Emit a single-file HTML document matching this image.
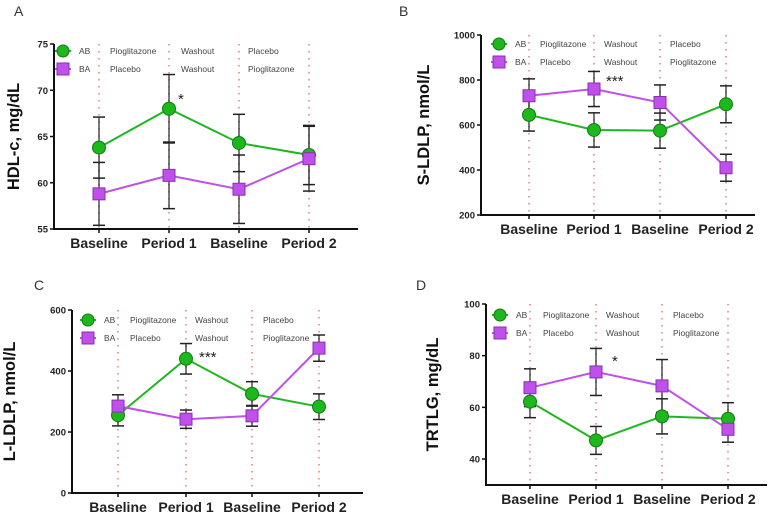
<!DOCTYPE html>
<html><head><meta charset="utf-8"><style>
body{margin:0;background:#fff;}
svg{display:block;font-family:"Liberation Sans",Arial,sans-serif;}
</style></head><body>
<svg id="fig" width="774" height="514" viewBox="0 0 774 514"></svg>
<script>
const categories = ["Baseline","Period 1","Baseline","Period 2"];
// Panel A HDL-c
const aAB = [63.8, 68.0, 64.3, 63.0];
const aABerr = [3.3, 3.7, 3.1, 3.2];
const aBA = [58.8, 60.8, 59.3, 62.6];
const aBAerr = [3.4, 3.6, 3.7, 3.5];
const aTicks = [55, 60, 65, 70, 75];
// Panel B S-LDLP
const bAB = [645, 578, 575, 692];
const bABerr = [72, 76, 78, 82];
const bBA = [730, 760, 700, 410];
const bBAerr = [75, 78, 78, 60];
const bTicks = [200, 400, 600, 800, 1000];
// Panel C L-LDLP
const cAB = [255, 440, 325, 283];
const cABerr = [35, 50, 40, 42];
const cBA = [285, 242, 253, 475];
const cBAerr = [37, 30, 34, 43];
const cTicks = [0, 200, 400, 600];
// Panel D TRTLG
const dAB = [62.2, 47.2, 56.5, 55.6];
const dABerr = [6.2, 5.4, 6.8, 6.2];
const dBA = [67.6, 73.7, 68.3, 51.5];
const dBAerr = [7.3, 9.1, 10.2, 5.0];
const dTicks = [40, 60, 80, 100];

const panels = [
 {id:"a", letter:"A", lx:14, ly:16, ax:54, top:44, bot:229, right:358, ymin:55, ymax:75, xs:[99,169,239,309], ticks:aTicks, ab:aAB, abe:aABerr, ba:aBA, bae:aBAerr, label:"HDL-c, mg/dL", tx:13, star:"*", starX:178, starY:104, legX:63, legY:51, cols:[110,181,248]},
 {id:"b", letter:"B", lx:399, ly:16, ax:481, top:35, bot:215, right:755, ymin:200, ymax:1000, xs:[529,594,660,726], ticks:bTicks, ab:bAB, abe:bABerr, ba:bBA, bae:bBAerr, label:"S-LDLP, nmol/L", tx:423, star:"***", starX:606, starY:86, legX:499, legY:44, cols:[540,604,670]},
 {id:"c", letter:"C", lx:34, ly:290, ax:72, top:310, bot:493, right:363, ymin:0, ymax:600, xs:[118,186,252,319], ticks:cTicks, ab:cAB, abe:cABerr, ba:cBA, bae:cBAerr, label:"L-LDLP, nmol/L", tx:9, star:"***", starX:199, starY:362, legX:88, legY:320, cols:[130,195,263]},
 {id:"d", letter:"D", lx:416, ly:290, ax:486, top:304, bot:485, right:767, ymin:30, ymax:100, xs:[530,596,662,728], ticks:dTicks, ab:dAB, abe:dABerr, ba:dBA, bae:dBAerr, label:"TRTLG, mg/dL", tx:432, star:"*", starX:612, starY:366, legX:500, legY:315, cols:[543,606,673]}
];
const NS="http://www.w3.org/2000/svg";
const svg=document.getElementById("fig");
function mk(tag, attrs, parent){const e=document.createElementNS(NS,tag);for(const k in attrs)e.setAttribute(k,attrs[k]);(parent||svg).appendChild(e);return e;}
const GREEN="#1db81d", GSTROKE="#137a13", PURPLE="#c050ea", PSTROKE="#8a2fb0";
panels.forEach(p=>{
  const g=mk("g",{});
  
  
  const y=v=>p.top+(p.ymax-v)/(p.ymax-p.ymin)*(p.bot-p.top);
  const yy = p.id==="d" ? (v=>304+(100-v)/60*155) : y;
  const letter=mk("text",{x:p.lx,y:p.ly,"font-size":14,fill:"#333"},g); letter.textContent=p.letter;
  
  
  p.xs.forEach(x=>{const l=mk("line",{x1:x,x2:x,y1:p.top,y2:p.bot,stroke:"#f08080","stroke-width":1.6,"stroke-dasharray":"1.5 5.5"},g);
    
    });
  const ya=mk("line",{x1:p.ax,x2:p.ax,y1:p.top,y2:p.bot+1,stroke:"#111","stroke-width":2},g);
  
  
  const xa=mk("line",{x1:p.ax-1,x2:p.right,y1:p.bot,y2:p.bot,stroke:"#111","stroke-width":2},g);
  
  
  p.ticks.forEach(t=>{const ty=yy(t);
    mk("line",{x1:p.ax-4,x2:p.ax,y1:ty,y2:ty,stroke:"#111","stroke-width":1.5},g);
    const tl=mk("text",{x:p.ax-6,y:ty+3.5,"font-size":9.5,"font-weight":"bold","text-anchor":"end",fill:"#222"},g);tl.textContent=t;
    
    });
  p.xs.forEach((x,i)=>{mk("line",{x1:x,x2:x,y1:p.bot,y2:p.bot+4,stroke:"#111","stroke-width":1.5},g);
    const tl=mk("text",{x:x,y:p.bot+19,"font-size":14,"font-weight":"bold","text-anchor":"middle",fill:"#222"},g);tl.textContent=categories[i];
    
    });
  const cy=(p.top+p.bot)/2, lxp=p.tx+6;
  const yl=mk("text",{x:lxp,y:cy,"font-size":16.5,"font-weight":"bold","text-anchor":"middle",fill:"#111",transform:`rotate(-90 ${lxp} ${cy})`},g);yl.textContent=p.label;
  
  
  const series=[[p.ab,p.abe,GREEN,GSTROKE,"circle","ab"],[p.ba,p.bae,PURPLE,PSTROKE,"square","ba"]];
  series.forEach(([vals,errs])=>{
    vals.forEach((v,i)=>{const x=p.xs[i];
      const e1=yy(v+errs[i]), e2=yy(v-errs[i]);
      mk("line",{x1:x,x2:x,y1:e1,y2:e2,stroke:"#222","stroke-width":1.2},g);
      mk("line",{x1:x-6,x2:x+6,y1:e1,y2:e1,stroke:"#222","stroke-width":1.5},g);
      mk("line",{x1:x-6,x2:x+6,y1:e2,y2:e2,stroke:"#222","stroke-width":1.5},g);});
  });
  series.forEach(([vals,errs,col,sc,shape,nm])=>{
    const pts=vals.map((v,i)=>p.xs[i]+","+yy(v)).join(" ");
    const pl=mk("polyline",{points:pts,fill:"none",stroke:col,"stroke-width":2},g);
    
    
  });
  series.forEach(([vals,errs,col,sc,shape,nm])=>{
    vals.forEach((v,i)=>{const x=p.xs[i], vy=yy(v);
      let m;
      if(shape==="circle") m=mk("circle",{cx:x,cy:vy,r:6.5,fill:col,stroke:sc,"stroke-width":1},g);
      else m=mk("rect",{x:x-6,y:vy-6,width:12,height:12,fill:col,stroke:sc,"stroke-width":1},g);
      
      });
  });
  const st=mk("text",{x:p.starX,y:p.starY,"font-size":15,fill:"#222"},g);st.textContent=p.star;
  
  
  const rows=[["AB",["Pioglitazone","Washout","Placebo"],GREEN,GSTROKE,"circle"],["BA",["Placebo","Washout","Pioglitazone"],PURPLE,PSTROKE,"square"]];
  rows.forEach((r,ri)=>{const ly=p.legY+ri*18;
    const le=mk("g",{},g);
    
    
    mk("line",{x1:p.legX-8,x2:p.legX+8,y1:ly,y2:ly,stroke:r[2],"stroke-width":2},le);
    if(r[4]==="circle") mk("circle",{cx:p.legX,cy:ly,r:6,fill:r[2],stroke:r[3]},le);
    else mk("rect",{x:p.legX-6,y:ly-6,width:12,height:12,fill:r[2],stroke:r[3]},le);
    const t=mk("text",{x:p.legX+16,y:ly+3,"font-size":8.5,fill:"#444"},le);t.textContent=r[0];
    r[1].forEach((s,ci)=>{const tt=mk("text",{x:p.cols[ci],y:ly+3,"font-size":8.5,fill:"#444"},le);tt.textContent=s;});
  });
});
</script>
</body></html>
